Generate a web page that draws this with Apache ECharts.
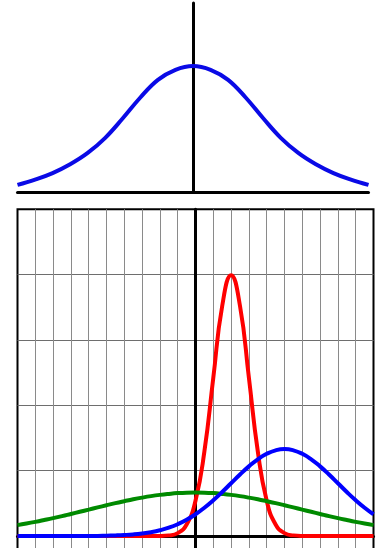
<!DOCTYPE html>
<html>
<head>
<meta charset="utf-8">
<script src="https://cdn.jsdelivr.net/npm/echarts@6/dist/echarts.min.js"></script>
<style>
html,body{margin:0;padding:0;background:#fff;}
#chart{width:380px;height:548px;}
</style>
</head>
<body>
<div id="chart"></div>
<script>
// Top panel: single bell curve (x in units, y relative to peak)
var topX = [-10,-9,-8,-7,-6,-5,-4,-3,-2,-1,0,1,2,3,4,5,6,7,8,9,10];
var topCurve = [0.056,0.098,0.15,0.22,0.31,0.43,0.585,0.75,0.89,0.97,1.0,0.97,0.89,0.75,0.585,0.43,0.31,0.22,0.15,0.098,0.056];

// Bottom panel: three curves sampled every 0.5 unit
var botX = [-10,-9.5,-9,-8.5,-8,-7.5,-7,-6.5,-6,-5.5,-5,-4.5,-4,-3.5,-3,-2.5,-2,-1.5,-1,-0.5,0,0.5,1,1.5,2,2.5,3,3.5,4,4.5,5,5.5,6,6.5,7,7.5,8,8.5,9,9.5,10];
var redCurve = [0,0,0,0,0,0,0,0,0,0,0,0,0,0,0,0,0.001,0.009,0.044,0.175,0.54,1.295,2.42,3.52,3.99,3.52,2.42,1.295,0.54,0.175,0.044,0.009,0.001,0,0,0,0,0,0,0,0];
var blueCurve = [0,0,0,0,0,0,0,0,0,0,0.005,0.009,0.015,0.024,0.038,0.058,0.087,0.127,0.18,0.248,0.332,0.432,0.547,0.673,0.807,0.94,1.065,1.174,1.258,1.311,1.33,1.311,1.258,1.174,1.065,0.94,0.807,0.673,0.547,0.432,0.332];
var greenCurve = [0.166,0.19,0.216,0.244,0.273,0.304,0.337,0.37,0.403,0.437,0.47,0.502,0.532,0.561,0.587,0.61,0.629,0.644,0.656,0.663,0.665,0.663,0.656,0.644,0.629,0.61,0.587,0.561,0.532,0.502,0.47,0.437,0.403,0.37,0.337,0.304,0.273,0.244,0.216,0.19,0.166];

function pairs(xs, ys){ return xs.map(function(x,i){ return [x, ys[i]]; }); }

var chart = echarts.init(document.getElementById('chart'), null, {renderer:'canvas'});
var blackLine = {show:true, onZero:true, lineStyle:{color:'#000', width:3}};
chart.setOption({
  animation:false,
  backgroundColor:'#fff',
  grid:[
    {left:17.5, top:3, width:351, height:189, outerBoundsMode:'none', containLabel:false},
    {left:17.5, top:209.3, width:356, height:392, outerBoundsMode:'none', containLabel:false,
     show:true, borderColor:'#000', borderWidth:2, backgroundColor:'transparent'}
  ],
  xAxis:[
    {type:'value', gridIndex:0, min:-10, max:10, interval:1, axisLine:blackLine,
     axisTick:{show:false}, axisLabel:{show:false}, splitLine:{show:false}},
    {type:'value', gridIndex:1, min:-10, max:10, interval:1, axisLine:blackLine,
     axisTick:{show:false}, axisLabel:{show:false},
     splitLine:{show:true, showMinLine:false, showMaxLine:false, lineStyle:{color:'#8a8a8a', width:1}}}
  ],
  yAxis:[
    {type:'value', gridIndex:0, min:0, max:1.5, axisLine:blackLine,
     axisTick:{show:false}, axisLabel:{show:false}, splitLine:{show:false}},
    {type:'value', gridIndex:1, min:-1, max:5, interval:1, axisLine:blackLine,
     axisTick:{show:false}, axisLabel:{show:false},
     splitLine:{show:true, showMinLine:false, showMaxLine:false, lineStyle:{color:'#6e6e6e', width:1}}}
  ],
  series:[
    {type:'line', xAxisIndex:0, yAxisIndex:0, data:pairs(topX, topCurve), smooth:0.4, showSymbol:false,
     lineStyle:{color:'#0a0ae6', width:4}},
    {type:'line', xAxisIndex:1, yAxisIndex:1, data:pairs(botX, redCurve), smooth:0.5, showSymbol:false,
     lineStyle:{color:'#ff0000', width:4}},
    {type:'line', xAxisIndex:1, yAxisIndex:1, data:pairs(botX, greenCurve), smooth:0.5, showSymbol:false,
     lineStyle:{color:'#008a00', width:4}},
    {type:'line', xAxisIndex:1, yAxisIndex:1, data:pairs(botX, blueCurve), smooth:0.5, showSymbol:false,
     lineStyle:{color:'#0000ff', width:4}}
  ]
});
</script>
</body>
</html>
